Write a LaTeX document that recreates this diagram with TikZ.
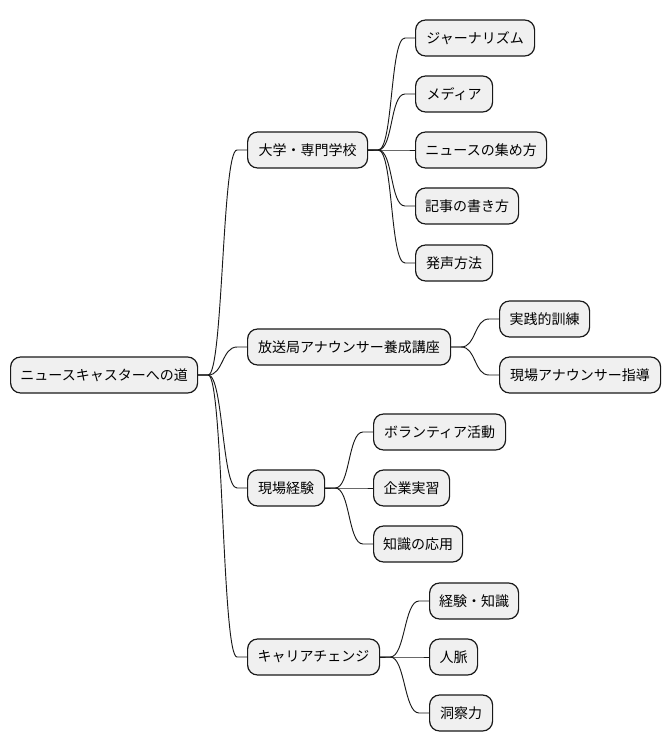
\documentclass[tikz,border=0pt]{standalone}
\usepackage{fontspec}
\setmainfont{Noto Sans CJK JP}
\usetikzlibrary{calc}
\tikzset{
  x=0.75pt, y=-0.75pt,
  box/.style={draw=black!90, line width=0.9pt, fill=black!6, rounded corners=7.5pt,
    minimum height=27pt, inner sep=0pt, anchor=west,
    font=\fontsize{10.5pt}{12pt}\selectfont, text=black},
  wd/.style={minimum width=#1*0.75pt},
  conn/.style={draw=black!90, line width=0.7pt}
}
\newcommand\mmlink[2]{\draw[conn] (#1.east) -- ++(10,0) .. controls +(15,0) and +(-15,0) .. ($(#2.west)+(-7.5pt,0)$) -- (#2.west);}
\begin{document}
\begin{tikzpicture}
\useasboundingbox[fill=white] (0,0) rectangle (670,752);
\node[box,wd=187] (root) at (10,375) {ニュースキャスターへの道};
\node[box,wd=120] (a) at (247,150) {大学・専門学校};
\node[box,wd=203] (b) at (247,347) {放送局アナウンサー養成講座};
\node[box,wd=77] (c) at (247,488) {現場経験};
\node[box,wd=132] (d) at (247,657) {キャリアチェンジ};
\node[box,wd=119] (a1) at (415,38) {ジャーナリズム};
\node[box,wd=77] (a2) at (415,94) {メディア};
\node[box,wd=131] (a3) at (415,150) {ニュースの集め方};
\node[box,wd=103] (a4) at (415,206) {記事の書き方};
\node[box,wd=77] (a5) at (415,263) {発声方法};
\node[box,wd=90] (b1) at (499,319) {実践的訓練};
\node[box,wd=161] (b2) at (499,375) {現場アナウンサー指導};
\node[box,wd=132] (c1) at (373,432) {ボランティア活動};
\node[box,wd=76] (c2) at (373,488) {企業実習};
\node[box,wd=89] (c3) at (373,544) {知識の応用};
\node[box,wd=89] (d1) at (429,601) {経験・知識};
\node[box,wd=48] (d2) at (429,657) {人脈};
\node[box,wd=63] (d3) at (429,713) {洞察力};
\mmlink{root}{a}\mmlink{root}{b}\mmlink{root}{c}\mmlink{root}{d}
\mmlink{a}{a1}\mmlink{a}{a2}\mmlink{a}{a3}\mmlink{a}{a4}\mmlink{a}{a5}
\mmlink{b}{b1}\mmlink{b}{b2}
\mmlink{c}{c1}\mmlink{c}{c2}\mmlink{c}{c3}
\mmlink{d}{d1}\mmlink{d}{d2}\mmlink{d}{d3}
\end{tikzpicture}
\end{document}
